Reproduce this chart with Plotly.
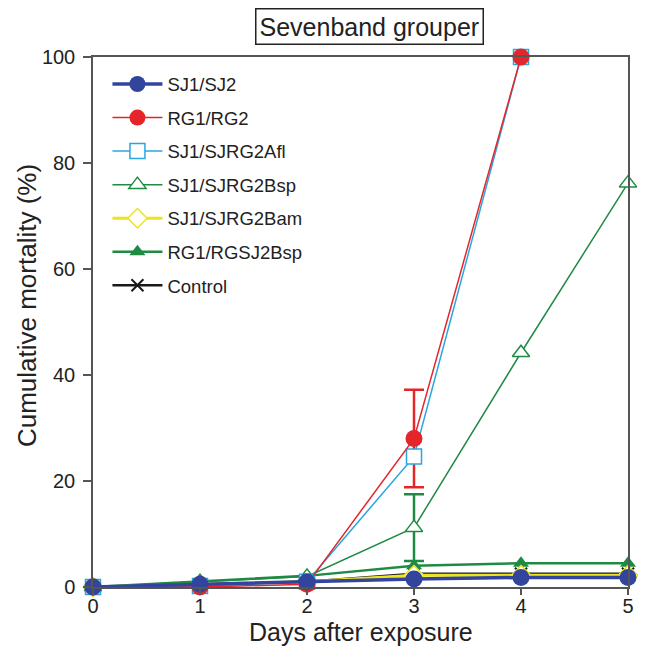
import plotly.graph_objects as go

days = [0, 1, 2, 3, 4, 5]
sj1_sj2 = [0, 0.5, 1.0, 1.5, 1.8, 1.8]
rg1_rg2 = [0, 0, 0.5, 28, 100]
sj1_sjrg2afl = [0, 0.2, 1.0, 24.6, 100]
sj1_sjrg2bsp = [0, 1.0, 2.0, 11.2, 44.2, 76.2]
sj1_sjrg2bam = [0, 0.5, 1.0, 2.2, 2.2, 2.2]
rg1_rgsj2bsp = [0, 1.1, 2.1, 4.0, 4.5, 4.5]
control = [0, 0.5, 1.0, 2.5, 2.5, 2.5]

err_day = [3]
rg_err_mean = [28]
rg_err = [9.2]
bsp_err_mean = [11.2]
bsp_err = [6.3]

FONT = "Liberation Sans, Arial, sans-serif"

series = [
    ("SJ1/SJ2", sj1_sj2, "#33449c", 3.5, dict(symbol="circle", size=17, color="#33449c", line=dict(width=0))),
    ("RG1/RG2", rg1_rg2, "#e4262b", 1.5, dict(symbol="circle", size=17, color="#e4262b", line=dict(width=0))),
    ("SJ1/SJRG2Afl", sj1_sjrg2afl, "#2aa6df", 1.5, dict(symbol="square", size=15, color="white", line=dict(width=1.5, color="#2aa6df"))),
    ("SJ1/SJRG2Bsp", sj1_sjrg2bsp, "#1f8a43", 1.5, dict(symbol="triangle-up", size=15, color="white", line=dict(width=1.5, color="#1f8a43"))),
    ("SJ1/SJRG2Bam", sj1_sjrg2bam, "#ece41e", 3, dict(symbol="diamond", size=15, color="white", line=dict(width=1.5, color="#ece41e"))),
    ("RG1/RGSJ2Bsp", rg1_rgsj2bsp, "#1f8a43", 2.5, dict(symbol="triangle-up", size=14, color="#1f8a43", line=dict(width=0))),
    ("Control", control, "#1a1a1a", 2.5, dict(symbol="x-thin", size=12, color="#1a1a1a", line=dict(width=2, color="#1a1a1a"))),
]

fig = go.Figure()

# error bars (drawn underneath)
fig.add_trace(go.Scatter(x=err_day, y=bsp_err_mean, mode="markers", marker=dict(size=1, opacity=0),
                         error_y=dict(type="data", array=bsp_err, color="#1f8a43", thickness=2.5, width=10),
                         showlegend=False, hoverinfo="skip", cliponaxis=False))
fig.add_trace(go.Scatter(x=err_day, y=rg_err_mean, mode="markers", marker=dict(size=1, opacity=0),
                         error_y=dict(type="data", array=rg_err, color="#e4262b", thickness=2.5, width=10),
                         showlegend=False, hoverinfo="skip", cliponaxis=False))

n = len(series)
for i, (name, ys, col, lw, mk) in enumerate(reversed(series)):
    fig.add_trace(go.Scatter(
        x=days[:len(ys)], y=ys, name=name, mode="lines+markers",
        line=dict(color=col, width=lw), marker=mk, cliponaxis=False,
        legendgroup=name, legendrank=n - i,
    ))

fig.update_layout(
    width=638, height=638,
    margin=dict(l=85, r=13, t=49, b=59),
    paper_bgcolor="white", plot_bgcolor="white",
    font=dict(family=FONT, size=18, color="#222"),
    showlegend=True,
    legend=dict(x=0.027, y=0.984, xanchor="left", yanchor="top", traceorder="grouped",
                font=dict(size=18.5, family=FONT, color="#222"), bgcolor="rgba(0,0,0,0)",
                tracegroupgap=6.5, itemwidth=50),
    xaxis=dict(range=[0, 5], tickvals=[0, 1, 2, 3, 4, 5], ticks="outside", ticklen=6, tickwidth=1.5,
               tickcolor="#555", showline=True, linecolor="#555", linewidth=1.5, mirror=True,
               showgrid=False, zeroline=False, tickfont=dict(size=20), ticklabelstandoff=-6),
    yaxis=dict(range=[0, 100], tickvals=[0, 20, 40, 60, 80, 100], ticks="outside", ticklen=8, tickwidth=1.5,
               tickcolor="#555", showline=True, linecolor="#555", linewidth=1.5, mirror=True,
               showgrid=False, zeroline=False, tickfont=dict(size=20), ticklabelstandoff=4),
    annotations=[
        dict(text="Sevenband grouper", xref="paper", yref="paper", x=0.516, y=1.0, yshift=31,
             xanchor="center", yanchor="middle", showarrow=False,
             font=dict(size=25, family=FONT, color="#222"),
             bordercolor="#222", borderwidth=1.5, borderpad=3, bgcolor="white"),
        dict(text="Days after exposure", xref="paper", yref="paper", x=0.5, y=0, yshift=-45,
             xanchor="center", yanchor="middle", showarrow=False,
             font=dict(size=25, family=FONT, color="#222")),
        dict(text="Cumulative mortality (%)", xref="paper", yref="paper", x=0, y=0.53, xshift=-66,
             xanchor="center", yanchor="middle", showarrow=False, textangle=-90,
             font=dict(size=26, family=FONT, color="#222")),
    ],
)

fig.write_html("out.html")
